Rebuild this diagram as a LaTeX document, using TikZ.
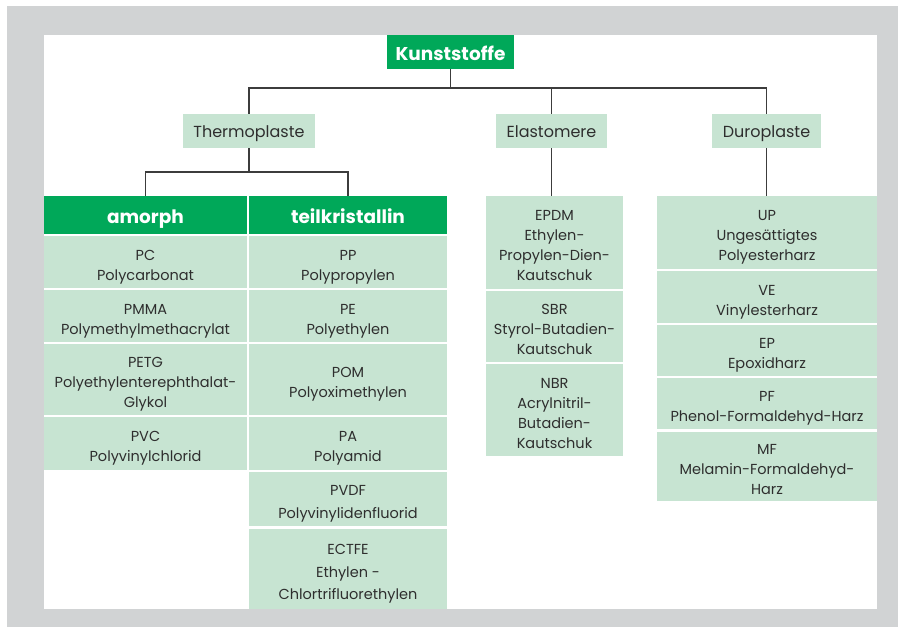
\documentclass[tikz,border=0pt]{standalone}
\usepackage{fontspec}
\setmainfont{Poppins}
\definecolor{outergray}{HTML}{D1D3D4}
\definecolor{hdrgreen}{HTML}{00A859}
\definecolor{lightgreen}{HTML}{C7E4D2}
\definecolor{txtgray}{HTML}{2E2E2E}
\definecolor{linegray}{HTML}{3C3C3C}
\newcommand\cTop{\rule{0pt}{21pt}}
\newcommand\cBot{\rule[-5pt]{0pt}{5pt}}
\tikzset{
  cell/.style={fill=lightgreen, text=txtgray, inner sep=0pt, align=center,
    font=\fontsize{14.5}{20}\selectfont},
  catbox/.style={fill=lightgreen, text=txtgray, inner sep=0pt, align=center,
    text height=14pt, text depth=0pt, font=\fontsize{16}{20}\selectfont},
  hdr/.style={fill=hdrgreen, text=white, inner sep=0pt, align=center,
    font=\bfseries\fontsize{18.5}{20}\selectfont},
  conn/.style={draw=linegray, line width=1.1pt},
}
\begin{document}
\begin{tikzpicture}[x=1pt,y=-1pt]
\useasboundingbox (0,0) rectangle (901,628);
\fill[white] (0,0) rectangle (901,628);
\fill[outergray] (7,6) rectangle (898,627);
\fill[white] (44,35) rectangle (877,609);

% top
\node[hdr, text height=18pt, text depth=0pt, minimum width=127pt, minimum height=34pt] (ks) at (450.5,52) {Kunststoffe};
\node[catbox, minimum width=132pt, minimum height=34pt] (thermo) at (249,131) {Thermoplaste};
\node[catbox, minimum width=111pt, minimum height=34pt] (elast) at (551.5,131) {Elastomere};
\node[catbox, minimum width=109pt, minimum height=34pt] (duro) at (766.5,131) {Duroplaste};

% thermoplaste headers
\node[hdr, text height=16pt, text depth=0pt, minimum width=203pt, minimum height=38pt] (amorph) at (145.5,215) {amorph};
\node[hdr, text height=16pt, text depth=0pt, minimum width=198pt, minimum height=38pt] (teil) at (348,215) {teilkristallin};

% amorph column
\node[cell, minimum width=203pt, minimum height=52pt] (pc) at (145.5,262) {\cTop PC\\Polycarbonat\cBot};
\node[cell, minimum width=203pt, minimum height=52pt] (pmma) at (145.5,316) {\cTop PMMA\\Polymethylmethacrylat\cBot};
\node[cell, minimum width=203pt, minimum height=71pt] (petg) at (145.5,379.5) {\cTop PETG\\Polyethylenterephthalat-\\Glykol\cBot};
\node[cell, minimum width=203pt, minimum height=53pt] (pvc) at (145.5,443.5) {\cTop PVC\\Polyvinylchlorid\cBot};

% teilkristallin column
\node[cell, minimum width=198pt, minimum height=52pt] (pp) at (348,262) {\cTop PP\\Polypropylen\cBot};
\node[cell, minimum width=198pt, minimum height=52pt] (pe) at (348,316) {\cTop PE\\Polyethylen\cBot};
\node[cell, minimum width=198pt, minimum height=71pt] (pom) at (348,379.5) {\cTop POM\\Polyoximethylen\cBot};
\node[cell, minimum width=198pt, minimum height=53pt] (pa) at (348,443.5) {\cTop PA\\Polyamid\cBot};
\node[cell, minimum width=198pt, minimum height=54pt] (pvdf) at (348,499) {\cTop PVDF\\[2.5pt]Polyvinylidenfluorid\cBot};
\node[cell, minimum width=198pt, minimum height=80pt] (ectfe) at (348,569) {\cTop ECTFE\\[2.5pt]Ethylen -\\[2.5pt]Chlortrifluorethylen\cBot};

% elastomere column
\node[cell, minimum width=137pt, minimum height=93pt] (epdm) at (554.5,242.5) {\cTop EPDM\\Ethylen-\\Propylen-Dien-\\Kautschuk\cBot};
\node[cell, minimum width=137pt, minimum height=71pt] (sbr) at (554.5,326.5) {\cTop SBR\\Styrol-Butadien-\\Kautschuk\cBot};
\node[cell, minimum width=137pt, minimum height=92pt] (nbr) at (554.5,410) {\cTop NBR\\Acrylnitril-\\Butadien-\\Kautschuk\cBot};

% duroplaste column
\node[cell, minimum width=220pt, minimum height=73pt] (up) at (767,232.5) {\cTop UP\\Ungesättigtes\\Polyesterharz\cBot};
\node[cell, minimum width=220pt, minimum height=52pt] (ve) at (767,297) {\cTop VE\\Vinylesterharz\cBot};
\node[cell, minimum width=220pt, minimum height=51pt] (ep) at (767,350.5) {\cTop EP\\Epoxidharz\cBot};
\node[cell, minimum width=220pt, minimum height=51pt] (pf) at (767,403.5) {\cTop PF\\Phenol-Formaldehyd-Harz\cBot};
\node[cell, minimum width=220pt, minimum height=69pt] (mf) at (767,466.5) {\cTop MF\\Melamin-Formaldehyd-\\Harz\cBot};

% connectors
\coordinate (j1) at (450.5,88);
\coordinate (j2) at (249,172);
\draw[conn] (ks.south) -- (j1);
\draw[conn] (j1) -| (thermo.north);
\draw[conn] (j1) -| (elast.north);
\draw[conn] (j1) -| (duro.north);
\draw[conn] (thermo.south) -- (j2);
\draw[conn] (j2) -| (amorph.north);
\draw[conn] (j2) -| (teil.north);
\draw[conn] (elast.south) -- (epdm.north -| elast.south);
\draw[conn] (duro.south) -- (up.north -| duro.south);
\end{tikzpicture}
\end{document}
